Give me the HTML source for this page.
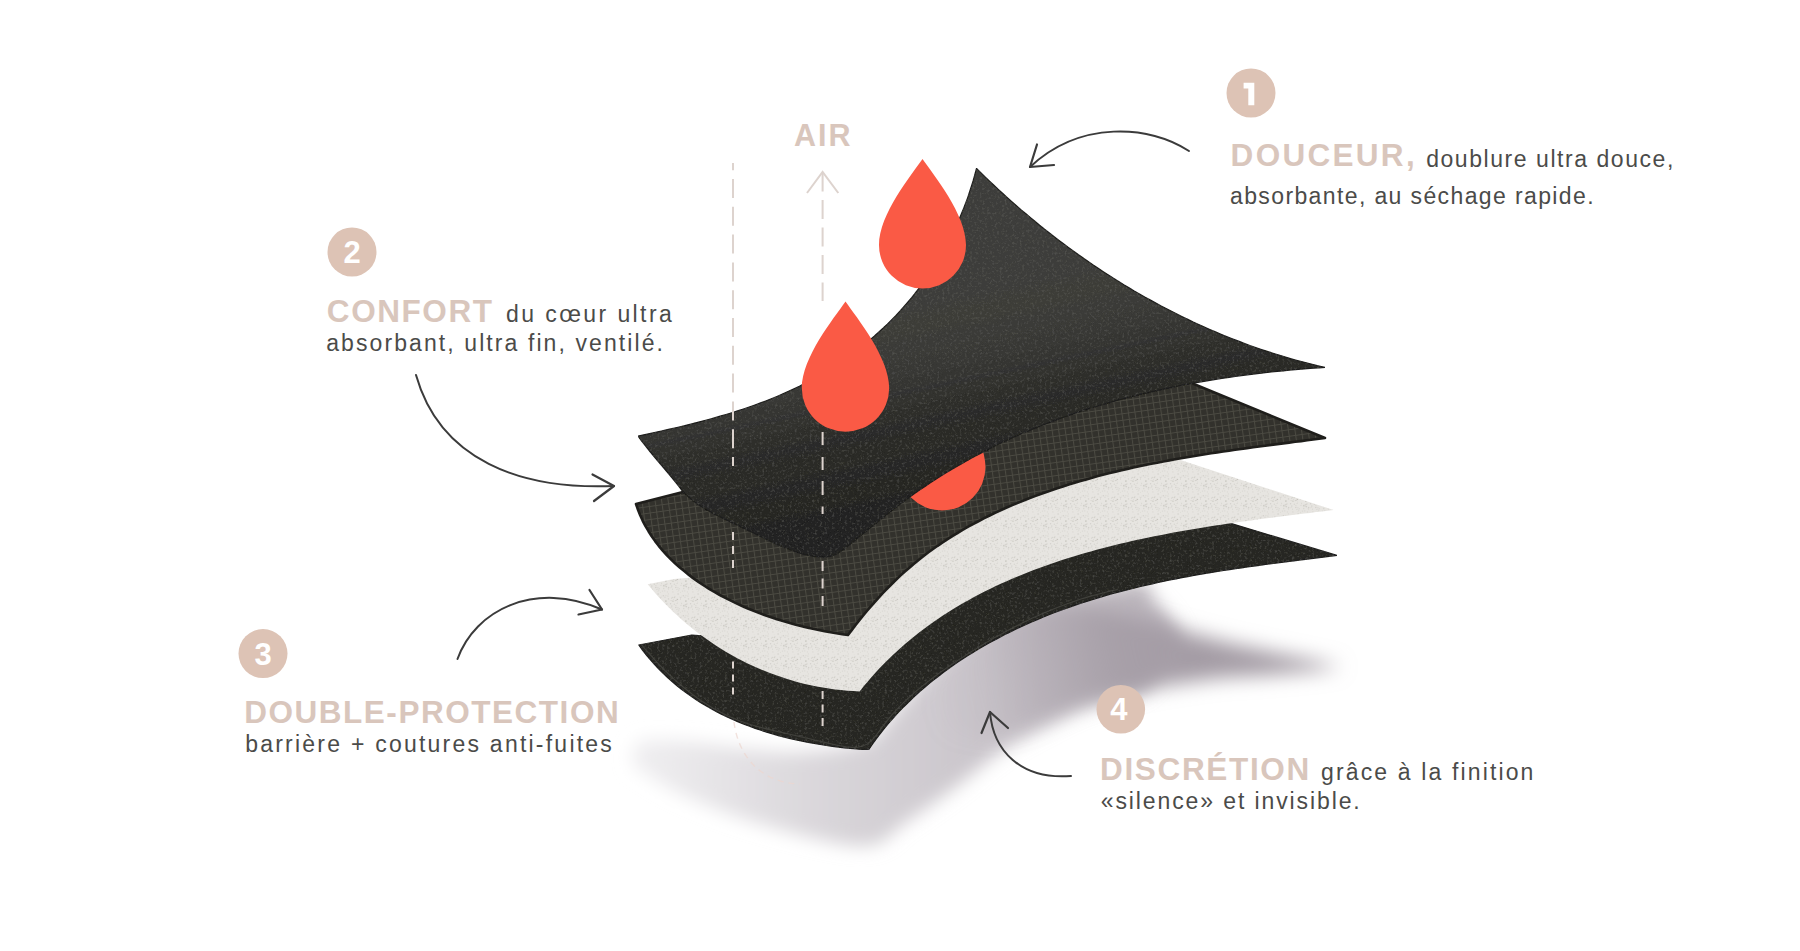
<!DOCTYPE html>
<html><head><meta charset="utf-8"><title>Layers</title>
<style>html,body{margin:0;padding:0;background:#fff;width:1800px;height:951px;overflow:hidden}svg{display:block}</style>
</head><body>
<svg width="1800" height="951" viewBox="0 0 1800 951">
<defs>
<filter id="tex" x="0" y="0" width="100%" height="100%" filterUnits="objectBoundingBox">
  <feTurbulence type="fractalNoise" baseFrequency="0.4" numOctaves="3" seed="4" result="n"/>
  <feColorMatrix in="n" type="matrix" values="0 0 0 0 0.30  0 0 0 0 0.30  0 0 0 0 0.28  0 0 0 0.4 -0.2" result="nc"/>
  <feComposite in="nc" in2="SourceGraphic" operator="in" result="nm"/>
  <feMerge><feMergeNode in="SourceGraphic"/><feMergeNode in="nm"/></feMerge>
</filter>
<filter id="blur" x="-30%" y="-50%" width="160%" height="200%"><feGaussianBlur stdDeviation="9"/></filter>
<filter id="blur2" x="-30%" y="-80%" width="160%" height="260%"><feGaussianBlur stdDeviation="10"/></filter>
<linearGradient id="shg" x1="640" y1="0" x2="1340" y2="0" gradientUnits="userSpaceOnUse">
  <stop offset="0" stop-color="#efeef0"/>
  <stop offset="0.25" stop-color="#dad7db"/>
  <stop offset="0.5" stop-color="#c9c4ca"/>
  <stop offset="0.7" stop-color="#bbb5bc"/>
  <stop offset="1" stop-color="#b0a9b1"/>
</linearGradient>
<linearGradient id="sha" x1="920" y1="700" x2="1180" y2="640" gradientUnits="userSpaceOnUse">
  <stop offset="0" stop-color="#a49ca5" stop-opacity="0"/>
  <stop offset="0.25" stop-color="#a49ca5" stop-opacity="0.12"/>
  <stop offset="0.5" stop-color="#a49ca5" stop-opacity="0.45"/>
  <stop offset="0.75" stop-color="#a49ca5" stop-opacity="0.85"/>
  <stop offset="1" stop-color="#a49ca5" stop-opacity="1"/>
</linearGradient>
<linearGradient id="g1" x1="990" y1="290" x2="1030" y2="480" gradientUnits="userSpaceOnUse">
  <stop offset="0" stop-color="#3e3e3a"/>
  <stop offset="0.3" stop-color="#393936"/>
  <stop offset="0.55" stop-color="#2d2d2a"/>
  <stop offset="1" stop-color="#232321"/>
</linearGradient>
<pattern id="mesh" width="6.5" height="6.5" patternUnits="userSpaceOnUse" patternTransform="rotate(-8)">
  <rect width="6.5" height="6.5" fill="#32312c"/>
  <path d="M0,0.5 H6.5 M0.5,0 V6.5" stroke="#5c5950" stroke-width="1" opacity="0.6"/>
</pattern>
<pattern id="speck" width="20" height="20" patternUnits="userSpaceOnUse">
  <rect width="20" height="20" fill="#e7e5e1"/>
  <circle cx="4.8" cy="10.9" r="0.58" fill="#a9a69e" opacity="0.27"/><circle cx="12.5" cy="1.3" r="0.45" fill="#a9a69e" opacity="0.32"/><circle cx="5.2" cy="4.7" r="0.80" fill="#a9a69e" opacity="0.24"/><circle cx="16.7" cy="9.5" r="0.67" fill="#a9a69e" opacity="0.18"/><circle cx="12.7" cy="17.4" r="0.63" fill="#a9a69e" opacity="0.30"/><circle cx="13.4" cy="1.3" r="0.72" fill="#a9a69e" opacity="0.27"/><circle cx="6.0" cy="0.6" r="0.75" fill="#a9a69e" opacity="0.24"/><circle cx="14.4" cy="17.6" r="0.70" fill="#a9a69e" opacity="0.33"/><circle cx="7.9" cy="16.0" r="0.61" fill="#a9a69e" opacity="0.34"/><circle cx="17.6" cy="1.9" r="0.50" fill="#a9a69e" opacity="0.19"/><circle cx="19.3" cy="8.7" r="0.67" fill="#a9a69e" opacity="0.21"/><circle cx="10.1" cy="7.7" r="0.57" fill="#a9a69e" opacity="0.27"/><circle cx="11.7" cy="18.1" r="0.69" fill="#a9a69e" opacity="0.34"/><circle cx="17.1" cy="19.8" r="0.68" fill="#a9a69e" opacity="0.18"/><circle cx="17.2" cy="19.3" r="0.77" fill="#a9a69e" opacity="0.26"/><circle cx="14.3" cy="4.2" r="0.74" fill="#a9a69e" opacity="0.26"/><circle cx="5.7" cy="1.3" r="0.75" fill="#a9a69e" opacity="0.35"/><circle cx="1.8" cy="16.0" r="0.59" fill="#a9a69e" opacity="0.18"/><circle cx="5.9" cy="15.4" r="0.76" fill="#a9a69e" opacity="0.16"/><circle cx="12.3" cy="0.9" r="0.70" fill="#a9a69e" opacity="0.22"/><circle cx="17.6" cy="19.6" r="0.63" fill="#a9a69e" opacity="0.35"/><circle cx="6.2" cy="1.5" r="0.66" fill="#a9a69e" opacity="0.16"/><circle cx="3.9" cy="8.2" r="0.66" fill="#a9a69e" opacity="0.18"/><circle cx="0.8" cy="17.4" r="0.56" fill="#a9a69e" opacity="0.34"/><circle cx="17.9" cy="7.6" r="0.61" fill="#a9a69e" opacity="0.25"/><circle cx="12.9" cy="11.9" r="0.65" fill="#a9a69e" opacity="0.27"/><circle cx="18.8" cy="10.1" r="0.60" fill="#a9a69e" opacity="0.29"/><circle cx="4.8" cy="6.0" r="0.79" fill="#a9a69e" opacity="0.25"/><circle cx="11.0" cy="0.2" r="0.60" fill="#a9a69e" opacity="0.27"/><circle cx="0.4" cy="12.3" r="0.67" fill="#a9a69e" opacity="0.16"/><circle cx="12.5" cy="9.3" r="0.69" fill="#a9a69e" opacity="0.22"/><circle cx="14.1" cy="14.8" r="0.46" fill="#a9a69e" opacity="0.16"/><circle cx="13.5" cy="19.3" r="0.54" fill="#a9a69e" opacity="0.24"/><circle cx="11.9" cy="6.4" r="0.58" fill="#a9a69e" opacity="0.21"/><circle cx="7.4" cy="11.9" r="0.56" fill="#a9a69e" opacity="0.23"/><circle cx="15.4" cy="0.5" r="0.65" fill="#a9a69e" opacity="0.30"/><circle cx="6.2" cy="4.5" r="0.73" fill="#a9a69e" opacity="0.20"/><circle cx="3.7" cy="8.7" r="0.69" fill="#a9a69e" opacity="0.17"/><circle cx="6.4" cy="6.7" r="0.74" fill="#a9a69e" opacity="0.24"/><circle cx="17.1" cy="3.4" r="0.57" fill="#a9a69e" opacity="0.28"/><circle cx="17.7" cy="9.0" r="0.53" fill="#a9a69e" opacity="0.17"/><circle cx="10.6" cy="3.8" r="0.73" fill="#a9a69e" opacity="0.32"/><circle cx="3.7" cy="5.6" r="0.73" fill="#a9a69e" opacity="0.28"/><circle cx="16.1" cy="6.9" r="0.50" fill="#a9a69e" opacity="0.21"/><circle cx="15.9" cy="5.4" r="0.57" fill="#a9a69e" opacity="0.23"/><circle cx="8.4" cy="8.2" r="0.77" fill="#a9a69e" opacity="0.18"/><circle cx="0.1" cy="18.9" r="0.76" fill="#a9a69e" opacity="0.35"/><circle cx="8.7" cy="19.0" r="0.77" fill="#a9a69e" opacity="0.19"/><circle cx="14.9" cy="16.7" r="0.68" fill="#a9a69e" opacity="0.25"/><circle cx="5.8" cy="6.8" r="0.53" fill="#a9a69e" opacity="0.16"/><circle cx="11.8" cy="5.7" r="0.73" fill="#a9a69e" opacity="0.16"/><circle cx="18.1" cy="13.9" r="0.77" fill="#a9a69e" opacity="0.33"/><circle cx="18.0" cy="11.5" r="0.45" fill="#a9a69e" opacity="0.30"/><circle cx="3.4" cy="6.0" r="0.68" fill="#a9a69e" opacity="0.25"/><circle cx="8.3" cy="18.8" r="0.66" fill="#a9a69e" opacity="0.22"/><circle cx="5.0" cy="17.2" r="0.62" fill="#a9a69e" opacity="0.31"/><circle cx="7.0" cy="3.9" r="0.64" fill="#a9a69e" opacity="0.31"/><circle cx="3.4" cy="15.8" r="0.77" fill="#a9a69e" opacity="0.31"/><circle cx="16.5" cy="0.2" r="0.67" fill="#a9a69e" opacity="0.32"/><circle cx="1.0" cy="5.4" r="0.54" fill="#a9a69e" opacity="0.26"/><circle cx="8.5" cy="9.5" r="0.72" fill="#a9a69e" opacity="0.15"/><circle cx="1.1" cy="2.5" r="0.49" fill="#a9a69e" opacity="0.16"/><circle cx="19.5" cy="17.1" r="0.48" fill="#a9a69e" opacity="0.25"/><circle cx="6.3" cy="6.3" r="0.57" fill="#a9a69e" opacity="0.28"/><circle cx="11.7" cy="7.2" r="0.52" fill="#a9a69e" opacity="0.22"/><circle cx="2.5" cy="11.1" r="0.70" fill="#a9a69e" opacity="0.23"/><circle cx="1.6" cy="3.6" r="0.58" fill="#a9a69e" opacity="0.27"/><circle cx="15.7" cy="7.6" r="0.73" fill="#a9a69e" opacity="0.27"/><circle cx="8.6" cy="7.4" r="0.62" fill="#a9a69e" opacity="0.29"/><circle cx="8.4" cy="13.9" r="0.61" fill="#a9a69e" opacity="0.20"/>
</pattern>
</defs>
<rect width="1800" height="951" fill="#ffffff"/>
<path d="M1150.0,582.0 C1138.3,583.7 1105.0,586.0 1080.0,592.0 C1055.0,598.0 1023.3,606.3 1000.0,618.0 C976.7,629.7 958.0,645.7 940.0,662.0 C922.0,678.3 904.3,702.7 892.0,716.0 C879.7,729.3 881.3,736.0 866.0,742.0 C850.7,748.0 821.0,751.0 800.0,752.0 C779.0,753.0 758.3,749.7 740.0,748.0 C721.7,746.3 706.7,743.0 690.0,742.0 C673.3,741.0 649.7,738.2 640.0,742.0 C630.3,745.8 633.3,761.2 632.0,765.0 C640.5,770.0 660.5,784.8 683.0,795.0 C705.5,805.2 736.8,817.5 767.0,826.0 C797.2,834.5 840.8,846.7 864.0,846.0 C887.2,845.3 890.3,832.2 906.0,822.0 C921.7,811.8 942.3,796.7 958.0,785.0 C973.7,773.3 985.7,761.7 1000.0,752.0 C1014.3,742.3 1029.2,734.7 1044.0,727.0 C1058.8,719.3 1072.3,711.8 1089.0,706.0 C1105.7,700.2 1134.8,694.3 1144.0,692.0 C1150.0,683.3 1179.0,656.2 1180.0,640.0 C1181.0,623.8 1155.0,602.5 1150.0,595.0 Z" fill="url(#shg)" filter="url(#blur)"/>
<path d="M1342.0,667.0 C1336.8,665.8 1323.5,662.7 1311.0,660.0 C1298.5,657.3 1281.8,654.2 1267.0,651.0 C1252.2,647.8 1236.8,644.7 1222.0,641.0 C1207.2,637.3 1192.8,633.2 1178.0,629.0 C1163.2,624.8 1147.8,619.7 1133.0,616.0 C1118.2,612.3 1103.8,608.3 1089.0,607.0 C1074.2,605.7 1058.8,605.0 1044.0,608.0 C1029.2,611.0 1014.0,616.3 1000.0,625.0 C986.0,633.7 970.8,647.5 960.0,660.0 C949.2,672.5 937.5,687.5 935.0,700.0 C932.5,712.5 943.3,729.2 945.0,735.0 C954.2,735.5 983.5,740.2 1000.0,738.0 C1016.5,735.8 1029.2,728.0 1044.0,722.0 C1058.8,716.0 1072.3,707.3 1089.0,702.0 C1105.7,696.7 1129.2,693.0 1144.0,690.0 C1158.8,687.0 1165.0,686.0 1178.0,684.0 C1191.0,682.0 1207.2,679.5 1222.0,678.0 C1236.8,676.5 1252.2,676.2 1267.0,675.0 C1281.8,673.8 1298.5,672.3 1311.0,671.0 C1323.5,669.7 1336.8,667.7 1342.0,667.0 Z" fill="url(#sha)" filter="url(#blur2)"/>
<path d="M638.8,645.0 L691.8,635.0 L760.0,640.0 L1180.0,508.0 L1337.0,555.4 L1331.1,556.1 L1325.1,556.9 L1319.2,557.6 L1313.2,558.3 L1307.3,559.1 L1301.3,559.8 L1295.4,560.6 L1289.4,561.3 L1283.4,562.1 L1277.4,562.9 L1271.5,563.6 L1265.5,564.4 L1259.5,565.3 L1253.5,566.1 L1247.5,566.9 L1241.6,567.8 L1235.6,568.7 L1229.6,569.6 L1223.6,570.5 L1217.6,571.4 L1211.7,572.4 L1205.7,573.4 L1199.8,574.4 L1193.8,575.5 L1187.8,576.6 L1181.9,577.7 L1176.0,578.8 L1170.0,580.0 L1164.1,581.2 L1158.2,582.5 L1152.3,583.8 L1146.4,585.1 L1140.5,586.5 L1134.7,587.9 L1128.8,589.4 L1123.0,590.9 L1117.1,592.4 L1111.3,594.0 L1105.5,595.6 L1099.7,597.3 L1093.9,599.1 L1088.2,600.9 L1082.4,602.7 L1076.7,604.6 L1071.0,606.6 L1065.3,608.6 L1059.6,610.7 L1054.0,612.8 L1048.4,615.0 L1042.8,617.3 L1037.2,619.6 L1031.6,622.0 L1026.1,624.4 L1020.6,626.9 L1015.2,629.5 L1009.8,632.1 L1004.4,634.8 L999.1,637.6 L993.8,640.4 L988.5,643.3 L983.3,646.3 L978.1,649.3 L973.0,652.4 L967.9,655.6 L962.9,658.8 L957.9,662.1 L952.9,665.5 L948.1,669.0 L943.2,672.5 L938.5,676.2 L933.8,679.9 L929.1,683.6 L924.5,687.5 L920.0,691.4 L915.6,695.4 L911.2,699.5 L906.9,703.7 L902.7,707.9 L898.5,712.2 L894.5,716.7 L890.5,721.2 L886.6,725.7 L882.8,730.4 L879.1,735.1 L875.5,740.0 L871.9,744.9 L868.5,749.9 L862.5,749.5 L856.5,749.0 L850.4,748.4 L844.4,747.8 L838.4,747.1 L832.3,746.3 L826.3,745.5 L820.2,744.5 L814.2,743.5 L808.2,742.4 L802.2,741.2 L796.2,740.0 L790.3,738.6 L784.3,737.1 L778.4,735.6 L772.6,733.9 L766.7,732.2 L761.0,730.3 L755.2,728.4 L749.5,726.3 L743.9,724.2 L738.3,721.9 L732.7,719.5 L727.2,717.0 L721.8,714.4 L716.5,711.6 L711.2,708.8 L706.0,705.8 L700.8,702.7 L695.8,699.5 L690.8,696.1 L685.9,692.6 L681.1,689.0 L676.4,685.2 L671.8,681.3 L667.3,677.3 L662.9,673.1 L658.6,668.8 L654.4,664.4 L650.3,659.7 L646.4,655.0 L642.5,650.1 L638.8,645.0 Z" fill="#272724" stroke="#1d1d1b" stroke-width="1.2" stroke-linejoin="round" filter="url(#tex)"/>
<path d="M1117.8,589.5 L1111.8,590.8 L1105.8,592.2 L1099.9,593.7 L1094.0,595.2 L1088.2,596.9 L1082.4,598.6 L1076.7,600.5 L1071.0,602.4 L1065.4,604.4 L1059.8,606.5 L1054.2,608.7 L1048.7,610.9 L1043.2,613.3 L1037.8,615.7 L1032.4,618.1 L1027.0,620.7 L1021.7,623.3 L1016.3,626.0 L1011.1,628.7 L1005.8,631.5 L1000.6,634.4 L995.3,637.3 L990.1,640.3 L985.0,643.4 L979.8,646.5 L974.7,649.6 L969.6,652.8 L964.5,656.1 L959.4,659.4 L954.3,662.7 L949.2,666.1 L944.2,669.6 L939.2,673.1 L934.3,676.7 L929.5,680.4 L924.7,684.1 L920.0,687.9 L915.3,691.8 L910.8,695.9 L906.4,700.0 L902.0,704.2 L897.8,708.5 L893.7,712.9 L889.8,717.4 L886.0,722.1 L882.3,726.9 L878.8,731.7 L875.3,736.4 L871.6,740.6 L867.5,743.9 L862.8,746.1 L857.7,747.2 L852.1,747.4 L846.2,746.9 L840.2,745.8 L834.0,744.5 L827.8,743.1 L821.7,741.6 L815.7,740.2 L809.8,738.8 L803.8,737.5 L797.9,736.1 L792.0,734.8 L786.1,733.4 L780.2,732.1 L774.3,730.8 L768.4,729.4 L762.5,727.9 L756.7,726.3 L750.9,724.7 L745.2,722.8 L739.5,720.8 L733.9,718.6 L728.5,716.2 L723.1,713.6 L717.8,710.8 L712.6,707.9 L707.5,704.8 L702.4,701.5 L697.5,698.1 L692.6,694.5 L687.9,690.8 L683.2,687.0 L678.6,683.1 L674.1,679.1 L669.7,675.0 L665.3,670.8 L661.1,666.5 L656.9,662.1 L652.8,657.6 L648.8,653.1 L644.8,648.6 L641.0,644.0" fill="none" stroke="#4a4a44" stroke-width="1.1" opacity="0.75"/>
<path d="M647.7,584.3 L674.0,579.0 L692.0,577.5 L1150.0,450.0 L1333.5,510.0 L1327.7,510.7 L1321.9,511.4 L1316.0,512.1 L1310.2,512.9 L1304.3,513.6 L1298.4,514.3 L1292.5,515.0 L1286.6,515.8 L1280.7,516.5 L1274.8,517.3 L1268.9,518.0 L1262.9,518.8 L1257.0,519.6 L1251.0,520.4 L1245.1,521.2 L1239.1,522.1 L1233.1,522.9 L1227.2,523.8 L1221.2,524.7 L1215.2,525.6 L1209.2,526.5 L1203.3,527.5 L1197.3,528.5 L1191.3,529.5 L1185.3,530.5 L1179.4,531.5 L1173.4,532.6 L1167.5,533.7 L1161.5,534.9 L1155.6,536.1 L1149.6,537.3 L1143.7,538.5 L1137.8,539.8 L1131.9,541.1 L1126.0,542.4 L1120.1,543.8 L1114.2,545.3 L1108.3,546.7 L1102.5,548.2 L1096.6,549.8 L1090.8,551.4 L1085.0,553.0 L1079.2,554.7 L1073.5,556.5 L1067.7,558.2 L1062.0,560.1 L1056.3,562.0 L1050.6,563.9 L1044.9,565.9 L1039.3,567.9 L1033.7,570.0 L1028.1,572.2 L1022.6,574.4 L1017.0,576.7 L1011.5,579.0 L1006.1,581.4 L1000.7,583.8 L995.3,586.3 L989.9,588.9 L984.6,591.6 L979.3,594.3 L974.1,597.0 L968.9,599.9 L963.7,602.8 L958.6,605.8 L953.6,608.8 L948.5,611.9 L943.6,615.1 L938.6,618.4 L933.8,621.8 L928.9,625.2 L924.2,628.7 L919.4,632.3 L914.8,636.0 L910.2,639.7 L905.6,643.5 L901.1,647.4 L896.7,651.4 L892.3,655.5 L888.0,659.7 L883.7,663.9 L879.5,668.3 L875.4,672.7 L871.4,677.3 L867.4,681.9 L863.5,686.6 L859.6,691.4 L853.4,691.1 L847.2,690.7 L841.1,690.1 L835.0,689.4 L828.9,688.5 L822.8,687.6 L816.8,686.5 L810.8,685.2 L804.8,683.9 L798.9,682.4 L793.0,680.7 L787.2,679.0 L781.4,677.1 L775.6,675.1 L769.9,673.0 L764.3,670.8 L758.7,668.4 L753.1,666.0 L747.6,663.4 L742.2,660.7 L736.8,657.9 L731.5,654.9 L726.2,651.9 L721.0,648.7 L715.8,645.5 L710.8,642.1 L705.8,638.6 L700.8,635.0 L696.0,631.4 L691.2,627.6 L686.5,623.7 L681.8,619.7 L677.3,615.6 L672.8,611.4 L668.4,607.1 L664.1,602.7 L659.8,598.3 L655.7,593.7 L651.7,589.0 L647.7,584.3 Z" fill="url(#speck)"/>
<path d="M636.0,504.0 L683.0,492.0 L1150.0,366.0 L1325.0,438.0 L1319.0,438.8 L1313.1,439.5 L1307.1,440.3 L1301.1,441.1 L1295.1,441.8 L1289.1,442.6 L1283.1,443.4 L1277.2,444.1 L1271.2,444.9 L1265.1,445.7 L1259.1,446.5 L1253.1,447.3 L1247.1,448.1 L1241.1,449.0 L1235.1,449.8 L1229.1,450.7 L1223.1,451.5 L1217.1,452.4 L1211.1,453.3 L1205.1,454.3 L1199.1,455.2 L1193.1,456.2 L1187.1,457.2 L1181.1,458.2 L1175.1,459.3 L1169.2,460.4 L1163.2,461.5 L1157.2,462.7 L1151.3,463.8 L1145.3,465.0 L1139.4,466.3 L1133.4,467.6 L1127.5,468.9 L1121.6,470.3 L1115.7,471.7 L1109.8,473.1 L1103.9,474.6 L1098.0,476.1 L1092.2,477.7 L1086.3,479.4 L1080.5,481.0 L1074.7,482.8 L1068.8,484.5 L1063.0,486.4 L1057.3,488.2 L1051.5,490.2 L1045.8,492.2 L1040.0,494.2 L1034.3,496.4 L1028.6,498.5 L1023.0,500.8 L1017.3,503.1 L1011.7,505.4 L1006.2,507.8 L1000.6,510.3 L995.1,512.9 L989.7,515.5 L984.3,518.2 L978.9,521.0 L973.5,523.8 L968.2,526.7 L963.0,529.7 L957.8,532.8 L952.7,535.9 L947.6,539.2 L942.6,542.5 L937.6,545.8 L932.7,549.3 L927.8,552.8 L923.0,556.5 L918.3,560.2 L913.7,564.0 L909.1,567.9 L904.6,571.8 L900.1,575.9 L895.8,580.0 L891.5,584.2 L887.2,588.5 L883.0,592.9 L878.9,597.3 L874.9,601.8 L870.9,606.4 L866.9,611.0 L863.0,615.7 L859.2,620.4 L855.4,625.2 L851.7,630.1 L848.0,635.0 L842.2,634.2 L836.4,633.3 L830.5,632.3 L824.6,631.2 L818.7,630.0 L812.8,628.8 L806.8,627.4 L800.8,626.0 L794.9,624.4 L788.9,622.8 L783.0,621.1 L777.0,619.2 L771.1,617.3 L765.2,615.2 L759.4,613.1 L753.6,610.8 L747.8,608.5 L742.1,606.0 L736.4,603.4 L730.8,600.7 L725.3,597.9 L719.8,595.0 L714.4,591.9 L709.1,588.8 L703.9,585.5 L698.8,582.1 L693.8,578.6 L688.9,574.9 L684.2,571.1 L679.5,567.2 L675.0,563.2 L670.7,559.1 L666.5,554.8 L662.5,550.3 L658.7,545.8 L655.1,541.1 L651.7,536.2 L648.5,531.2 L645.5,526.1 L642.7,520.8 L640.2,515.3 L638.0,509.7 L636.0,504.0 Z" fill="url(#mesh)" stroke="#1f1e1b" stroke-width="2.6" stroke-linejoin="round"/>
<path d="M942,381 C953.2,397.3 985.5,436.2 985.5,467 A43.5,43.5 0 0 1 898.5,467 C898.5,436.2 930.8,397.3 942,381 Z" fill="#fa5a45"/>
<path d="M638.0,436.0 L643.8,434.8 L649.7,433.6 L655.5,432.3 L661.4,431.0 L667.3,429.7 L673.2,428.4 L679.1,427.0 L685.0,425.6 L690.9,424.1 L696.7,422.6 L702.6,421.1 L708.5,419.5 L714.4,417.9 L720.2,416.2 L726.0,414.5 L731.9,412.7 L737.6,410.9 L743.4,409.0 L749.2,407.0 L754.9,405.0 L760.6,402.9 L766.3,400.7 L771.9,398.5 L777.5,396.2 L783.0,393.8 L788.5,391.3 L794.0,388.8 L799.4,386.2 L804.8,383.4 L810.1,380.6 L815.4,377.7 L820.6,374.8 L825.8,371.7 L830.9,368.5 L836.0,365.3 L841.0,362.0 L845.9,358.5 L850.8,355.1 L855.6,351.5 L860.3,347.8 L865.0,344.1 L869.6,340.2 L874.2,336.3 L878.6,332.3 L883.0,328.3 L887.4,324.1 L891.6,319.9 L895.8,315.6 L899.9,311.2 L903.9,306.7 L907.8,302.2 L911.7,297.6 L915.4,292.9 L919.1,288.1 L922.7,283.2 L926.2,278.3 L929.6,273.4 L933.0,268.3 L936.2,263.2 L939.3,258.0 L942.4,252.8 L945.3,247.5 L948.2,242.1 L951.0,236.7 L953.7,231.3 L956.2,225.8 L958.7,220.2 L961.1,214.6 L963.4,209.0 L965.6,203.3 L967.7,197.6 L969.6,191.8 L971.5,186.0 L973.3,180.2 L974.9,174.3 L976.5,168.4 L980.8,172.7 L985.1,176.9 L989.5,181.1 L993.9,185.3 L998.3,189.4 L1002.8,193.5 L1007.3,197.6 L1011.8,201.6 L1016.4,205.6 L1020.9,209.6 L1025.6,213.5 L1030.2,217.4 L1034.9,221.3 L1039.6,225.2 L1044.3,229.0 L1049.1,232.7 L1053.9,236.5 L1058.7,240.2 L1063.5,243.8 L1068.4,247.4 L1073.3,251.0 L1078.2,254.6 L1083.2,258.1 L1088.2,261.5 L1093.2,265.0 L1098.2,268.3 L1103.3,271.7 L1108.4,275.0 L1113.5,278.3 L1118.7,281.5 L1123.8,284.7 L1129.0,287.8 L1134.2,290.9 L1139.5,293.9 L1144.7,297.0 L1150.0,299.9 L1155.4,302.8 L1160.7,305.7 L1166.1,308.5 L1171.5,311.3 L1176.9,314.0 L1182.3,316.7 L1187.8,319.4 L1193.2,322.0 L1198.7,324.5 L1204.3,327.0 L1209.8,329.5 L1215.4,331.9 L1221.0,334.2 L1226.6,336.5 L1232.2,338.7 L1237.9,340.9 L1243.5,343.1 L1249.2,345.2 L1254.9,347.2 L1260.7,349.2 L1266.4,351.1 L1272.2,353.0 L1278.0,354.8 L1283.8,356.6 L1289.6,358.3 L1295.5,360.0 L1301.4,361.6 L1307.2,363.1 L1313.1,364.6 L1319.1,366.0 L1325.0,367.4 L1319.0,367.8 L1313.1,368.2 L1307.1,368.7 L1301.1,369.2 L1295.1,369.7 L1289.1,370.2 L1283.1,370.8 L1277.2,371.4 L1271.2,372.0 L1265.2,372.7 L1259.2,373.4 L1253.2,374.1 L1247.2,374.8 L1241.2,375.6 L1235.2,376.5 L1229.2,377.3 L1223.3,378.2 L1217.3,379.1 L1211.3,380.1 L1205.4,381.1 L1199.4,382.1 L1193.4,383.2 L1187.5,384.3 L1181.6,385.4 L1175.6,386.6 L1169.7,387.8 L1163.8,389.1 L1157.9,390.4 L1152.0,391.7 L1146.1,393.1 L1140.2,394.5 L1134.4,395.9 L1128.5,397.4 L1122.7,399.0 L1116.8,400.5 L1111.0,402.2 L1105.2,403.8 L1099.4,405.5 L1093.7,407.3 L1087.9,409.1 L1082.2,410.9 L1076.5,412.8 L1070.8,414.8 L1065.1,416.8 L1059.4,418.8 L1053.8,420.9 L1048.1,423.0 L1042.5,425.2 L1036.9,427.4 L1031.4,429.7 L1025.8,432.0 L1020.3,434.3 L1014.8,436.8 L1009.3,439.2 L1003.9,441.8 L998.4,444.3 L993.0,447.0 L987.7,449.7 L982.3,452.4 L977.0,455.2 L971.7,458.0 L966.4,460.9 L961.2,463.9 L955.9,466.9 L950.8,470.0 L945.6,473.1 L940.5,476.3 L935.4,479.5 L930.3,482.8 L925.3,486.2 L920.3,489.6 L915.3,493.0 L910.4,496.6 L905.5,500.2 L900.6,503.8 L895.8,507.5 L891.0,511.3 L886.2,515.0 L881.5,518.8 L876.7,522.6 L872.1,526.4 L867.4,530.2 L862.7,534.0 L858.1,537.8 L853.5,541.6 L848.9,545.3 L844.3,548.9 L839.6,552.1 L834.8,554.7 L829.7,556.4 L824.4,557.1 L818.9,557.0 L813.2,556.3 L807.5,555.2 L801.7,553.7 L795.9,551.9 L790.1,549.8 L784.3,547.5 L778.5,545.0 L772.7,542.4 L766.9,539.7 L761.1,536.8 L755.4,534.0 L749.7,531.1 L744.2,528.4 L738.7,525.7 L733.2,523.1 L727.9,520.6 L722.7,518.1 L717.5,515.6 L712.4,513.0 L707.4,510.2 L702.4,507.3 L697.5,504.0 L692.6,500.4 L687.8,496.4 L683.0,492.0 L679.1,486.7 L675.1,481.6 L671.0,476.5 L666.8,471.5 L662.6,466.5 L658.3,461.5 L654.1,456.6 L650.0,451.5 L645.9,446.4 L641.9,441.3 L638.0,436.0 Z" fill="url(#g1)" stroke="#1d1d1b" stroke-width="1.2" stroke-linejoin="round" filter="url(#tex)"/>

<g stroke="#ddd3ce" stroke-width="2" fill="none">
<path d="M733,163 V466" stroke-dasharray="19 8.8" stroke-dashoffset="11.8"/>
<path d="M733,532 V569" stroke-dasharray="8 6"/>
<path d="M733,661.5 V696" stroke-dasharray="7 6"/>
<path d="M822.6,172.5 V301" stroke-dasharray="19 8.5"/>
<path d="M822.6,432 V445 M822.6,457 V470 M822.6,481 V495 M822.6,506.5 V514"/>
<path d="M822.6,561 V608" stroke-dasharray="10 7.5"/>
<path d="M822.6,691 V730" stroke-dasharray="8 5.5"/>
<path d="M807,193 L822.6,172 L838.3,193"/>
</g>
<path d="M734,722 C738,755 760,783 800,784" fill="none" stroke="#ecd6cf" stroke-width="1.4" stroke-dasharray="6 5" opacity="0.7"/>

<path d="M922.5,159 C933.7,175.3 966.0,214.2 966.0,245 A43.5,43.5 0 0 1 879.0,245 C879.0,214.2 911.3,175.3 922.5,159 Z" fill="#fa5a45"/>
<path d="M845.5,301.4 C856.8,317.8 889.2,357.1 889.2,388 A43.7,43.7 0 0 1 801.8,388 C801.8,357.1 834.2,317.8 845.5,301.4 Z" fill="#fa5a45"/>
<path d="M1189,151 C1150,125 1080,120 1030,167" fill="none" stroke="#3b3b3b" stroke-width="2" stroke-linecap="round"/><path d="M1037,144.5 L1030,167 L1054,165" fill="none" stroke="#3b3b3b" stroke-width="2.2" stroke-linecap="round" stroke-linejoin="round"/><path d="M416,375 C440,460 520,490 614,486" fill="none" stroke="#3b3b3b" stroke-width="2" stroke-linecap="round"/><path d="M592.5,474.5 L614,486 L594,501" fill="none" stroke="#3b3b3b" stroke-width="2.2" stroke-linecap="round" stroke-linejoin="round"/><path d="M457.5,659 C475,610 535,580 602,609.5" fill="none" stroke="#3b3b3b" stroke-width="2" stroke-linecap="round"/><path d="M589.5,590 L602,609.5 L578.5,614.5" fill="none" stroke="#3b3b3b" stroke-width="2.2" stroke-linecap="round" stroke-linejoin="round"/><path d="M1071,776 C1020,780 993,750 990,712" fill="none" stroke="#3b3b3b" stroke-width="2" stroke-linecap="round"/><path d="M981.5,733 L990,712 L1008,728" fill="none" stroke="#3b3b3b" stroke-width="2.2" stroke-linecap="round" stroke-linejoin="round"/>
<g font-family="Liberation Sans, sans-serif"><circle cx="1251" cy="93" r="24.5" fill="#ddc3b5"/><path d="M1243.6,82.8 H1254.3 V105.3 H1248.3 V88.4 H1243.6 Z" fill="#fff"/><circle cx="352" cy="252" r="24.5" fill="#ddc3b5"/><text x="352" y="263" text-anchor="middle" font-size="31" font-weight="700" fill="#fff">2</text><circle cx="263" cy="653.6" r="24.5" fill="#ddc3b5"/><text x="263" y="664.6" text-anchor="middle" font-size="31" font-weight="700" fill="#fff">3</text><circle cx="1120.8" cy="709.3" r="24.3" fill="#ddc3b5"/><text x="1118.8" y="720.3" text-anchor="middle" font-size="31" font-weight="700" fill="#fff">4</text><text x="1230.6" y="165.6" font-size="31.5" font-weight="700" letter-spacing="2.29" fill="#d9c6bc">DOUCEUR,</text><text x="1426.2" y="166.7" font-size="23" font-weight="400" letter-spacing="1.55" fill="#4b4b49">doublure ultra douce,</text><text x="1230.0" y="203.5" font-size="23" font-weight="400" letter-spacing="1.38" fill="#4b4b49">absorbante, au séchage rapide.</text><text x="326.8" y="322.4" font-size="31.5" font-weight="700" letter-spacing="1.58" fill="#d9c6bc">CONFORT</text><text x="506.0" y="322.2" font-size="23" font-weight="400" letter-spacing="2.42" fill="#4b4b49">du cœur ultra</text><text x="326.2" y="351" font-size="23" font-weight="400" letter-spacing="2.09" fill="#4b4b49">absorbant, ultra fin, ventilé.</text><text x="244.2" y="723.1" font-size="31.5" font-weight="700" letter-spacing="1.53" fill="#d9c6bc">DOUBLE-PROTECTION</text><text x="245.2" y="751.7" font-size="23" font-weight="400" letter-spacing="2.23" fill="#4b4b49">barrière + coutures anti-fuites</text><text x="1100.0" y="780.3" font-size="31.5" font-weight="700" letter-spacing="1.67" fill="#d9c6bc">DISCRÉTION</text><text x="1321.0" y="779.9" font-size="23" font-weight="400" letter-spacing="2.14" fill="#4b4b49">grâce à la finition</text><text x="1100.8" y="808.7" font-size="23" font-weight="400" letter-spacing="1.89" fill="#4b4b49">«silence» et invisible.</text><text x="794.0" y="146" font-size="30.5" font-weight="700" letter-spacing="2.00" fill="#d9c6bc">AIR</text></g>
</svg>
</body></html>
